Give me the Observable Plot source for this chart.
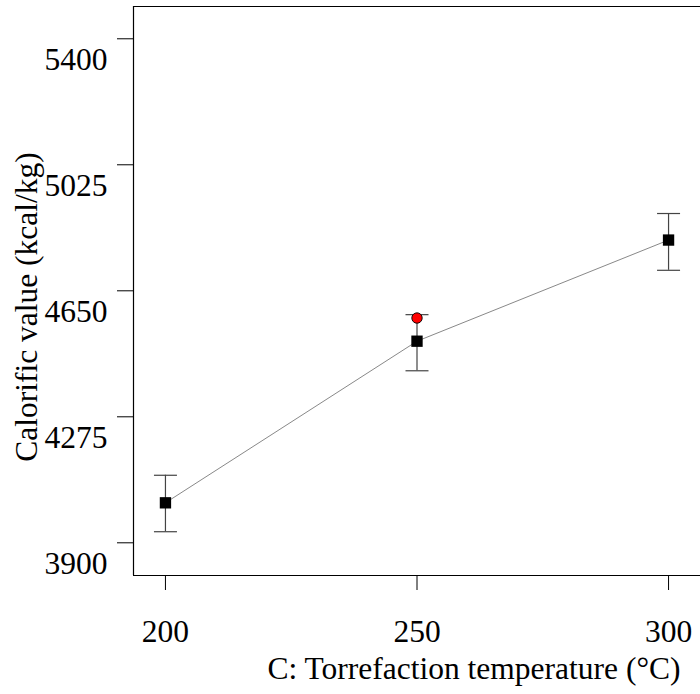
<!DOCTYPE html>
<html>
<head>
<meta charset="utf-8">
<script src="https://cdn.jsdelivr.net/npm/d3@7"></script>
<script src="https://cdn.jsdelivr.net/npm/@observablehq/plot@0.6"></script>
<style>
  html, body { margin: 0; padding: 0; background: #fff; }
  #chart { width: 700px; height: 694px; }
  #chart svg, #chart svg text { font-family: "Liberation Serif", "Times New Roman", serif !important; font-variant: normal !important; }
</style>
</head>
<body>
<div id="chart"></div>
<script>
// Data
const temps = [200, 250, 300];
const means = [4019, 4500, 4801];
const lower = [3933, 4412, 4711];
const upper = [4101, 4579, 4880];
const actualTemps = [250];
const actualValues = [4569];
const yTicks = [3900, 4275, 4650, 5025, 5400];
const xTicks = [200, 250, 300];
const xTitle = "C: Torrefaction temperature (°C)";
const yTitle = "Calorific value (kcal/kg)";

const xDomain = [193.65, 306.35];
const yDomain = [3802.7, 5496.1];

const rows = temps.map((t, i) => ({temp: t, mean: means[i], lo: lower[i], hi: upper[i]}));
const actual = actualTemps.map((t, i) => ({temp: t, value: actualValues[i]}));

const capSymbol = {
  draw(ctx) { ctx.moveTo(-11.5, 0); ctx.lineTo(11.5, 0); }
};

const font = "Liberation Serif";
const fs = 31.5;

const chart = Plot.plot({
  width: 700,
  height: 694,
  marginLeft: 133,
  marginRight: 0,
  marginTop: 6,
  marginBottom: 119,
  style: {fontFamily: font, fontSize: fs + "px", color: "#000", background: "#fff", overflow: "visible"},
  x: {domain: xDomain},
  y: {domain: yDomain},
  marks: [
    Plot.ruleX([xDomain[0]], {stroke: "#000", strokeWidth: 1.2}),
    Plot.ruleY([yDomain[0], yDomain[1]], {stroke: "#000", strokeWidth: 1.2}),
    // y tick lines
    Plot.axisY({ticks: yTicks, tickSize: 16, tickFormat: () => "", label: null, strokeWidth: 1}),
    // y tick labels, shifted below the tick lines
    Plot.axisY({ticks: yTicks, tickSize: 0, tickPadding: 26, dy: 21, fontSize: fs, fontFamily: font, fontVariant: "normal", label: null, tickFormat: d => String(d)}),
    Plot.axisX({ticks: xTicks, tickSize: 15, tickPadding: 29, fontSize: fs, fontFamily: font, fontVariant: "normal", label: null, tickFormat: d => String(d), strokeWidth: 1}),
    Plot.line(rows, {x: "temp", y: "mean", stroke: "#555", strokeWidth: 0.7}),
    Plot.ruleX(rows, {x: "temp", y1: "lo", y2: "hi", stroke: "#444", strokeWidth: 1.2}),
    Plot.dot(rows, {x: "temp", y: "lo", symbol: capSymbol, stroke: "#444", strokeWidth: 1.2, r: 5}),
    Plot.dot(rows, {x: "temp", y: "hi", symbol: capSymbol, stroke: "#444", strokeWidth: 1.2, r: 5}),
    Plot.dot(rows, {x: "temp", y: "mean", symbol: "square", r: 6.4, fill: "#000", stroke: null}),
    Plot.dot(actual, {x: "temp", y: "value", r: 5.2, fill: "#ff0000", stroke: "#000", strokeWidth: 0.9}),
    Plot.text([xTitle], {frameAnchor: "bottom-right", dx: -20, dy: 93, textAnchor: "end", lineAnchor: "middle", fontSize: fs, fontFamily: font, fill: "#000"}),
    Plot.text([yTitle], {frameAnchor: "left", dx: -107, dy: 16, rotate: -90, textAnchor: "middle", lineAnchor: "middle", fontSize: fs, fontFamily: font, fill: "#000"})
  ]
});
document.getElementById("chart").appendChild(chart);
</script>
</body>
</html>
